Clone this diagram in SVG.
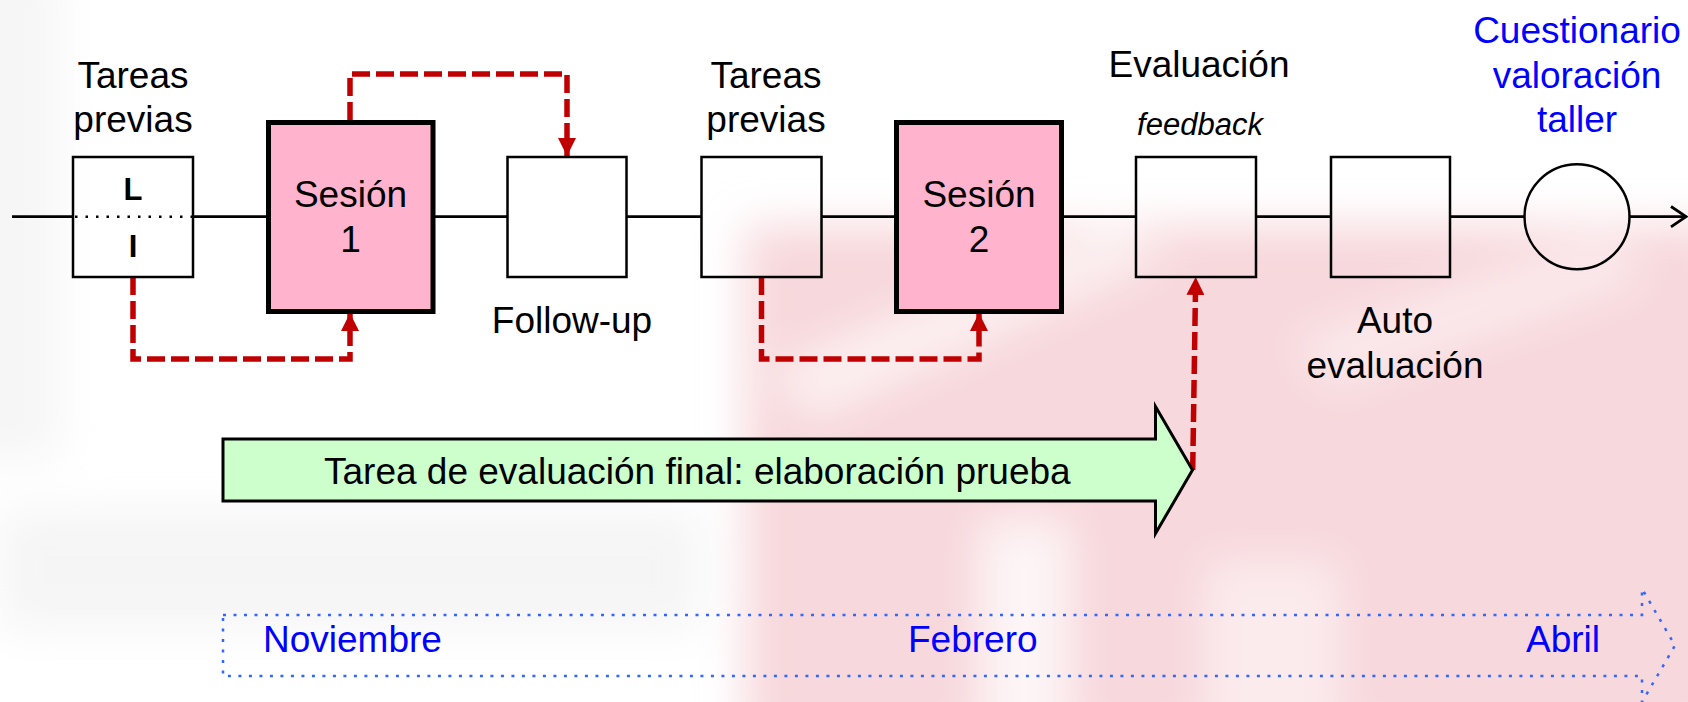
<svg xmlns="http://www.w3.org/2000/svg" width="1688" height="702" viewBox="0 0 1688 702">
  <defs>
    <filter id="soft" x="-10%" y="-10%" width="120%" height="120%">
      <feGaussianBlur stdDeviation="22"/>
    </filter>
    <marker id="redHead" markerUnits="userSpaceOnUse" markerWidth="18" markerHeight="18" viewBox="0 0 17 17" refX="17" refY="8.5" orient="auto">
      <path d="M0,0 L17,8.5 L0,17 Z" fill="#C00000"/>
    </marker>
  </defs>
  <style>
    .lbl { font-family: "Liberation Sans", Arial, sans-serif; font-size: 37px; fill: #000; text-anchor: middle; }
    .blue { fill: #0000FF; }
    .ital { font-style: italic; font-size: 31px; }
    .bold { font-weight: bold; font-size: 31px; }
    .box { fill: none; stroke: #000; stroke-width: 2.5; }
    .session { fill: #FFB3CC; stroke: #000; stroke-width: 5; }
    .flow { fill: none; stroke: #000; stroke-width: 2.8; }
    .link { fill: none; stroke: #C00000; stroke-width: 5.5; stroke-dasharray: 18 6; marker-end: url(#redHead); }
  </style>

  <!-- faint backdrop -->
  <rect x="0" y="0" width="1688" height="702" fill="#FFFFFF"/>
  <g id="backdrop" filter="url(#soft)">
    <rect x="-40" y="-40" width="100" height="500" fill="#F6F6F6"/>
    <rect x="0" y="510" width="700" height="120" fill="#F5F5F5"/>
    <rect x="745" y="225" width="980" height="520" fill="#F7D8DC"/>
    <path d="M770,370 L1110,225 L1170,255 L810,420 Z" fill="#FCF0F1"/>
    <rect x="980" y="520" width="90" height="220" fill="#FDF5F6"/>
    <rect x="1205" y="560" width="135" height="180" fill="#FBEBED"/>
    <path d="M1290,340 L1610,235 L1650,280 L1330,390 Z" fill="#FBE9EB"/>
  </g>

  <!-- main flow line -->
  <g id="connectors">
    <path class="flow" d="M12,216.7 H73 M193,216.7 H267 M434,216.7 H507 M627,216.7 H701 M822,216.7 H895 M1063,216.7 H1136 M1256,216.7 H1331 M1450,216.7 H1524.5 M1629.5,216.7 H1686"/>
    <path class="flow" d="M1671,206.5 L1686,216.7 L1671,226.9"/>
    <path class="link" d="M350,120 V74 H567 V156"/>
    <path class="link" d="M133,277 V359 H350 V313"/>
    <path class="link" d="M761.5,277 V359 H979 V313"/>
    <path class="link" d="M1192.7,470 L1195.7,277"/>
  </g>

  <g id="tareas1">
    <text class="lbl" x="133" y="88">Tareas</text>
    <text class="lbl" x="133" y="132">previas</text>
    <rect class="box" x="73" y="157" width="120" height="120"/>
    <path d="M75,216.7 H192" stroke="#000" stroke-width="2.5" stroke-dasharray="2.5 8"/>
    <text class="lbl bold" x="133" y="200">L</text>
    <text class="lbl bold" x="133" y="257">I</text>
  </g>

  <g id="sesion1">
    <rect class="session" x="268.5" y="122.5" width="164.5" height="189"/>
    <text class="lbl" x="350.5" y="207">Sesión</text>
    <text class="lbl" x="350.5" y="252">1</text>
  </g>

  <g id="followup">
    <rect class="box" x="507.5" y="157" width="119" height="120"/>
    <text class="lbl" x="572" y="333">Follow-up</text>
  </g>

  <g id="tareas2">
    <text class="lbl" x="766" y="88">Tareas</text>
    <text class="lbl" x="766" y="132">previas</text>
    <rect class="box" x="701.5" y="157" width="120" height="120"/>
  </g>

  <g id="sesion2">
    <rect class="session" x="896.5" y="122.5" width="165" height="189"/>
    <text class="lbl" x="979" y="207">Sesión</text>
    <text class="lbl" x="979" y="252">2</text>
  </g>

  <g id="evaluacion">
    <text class="lbl" x="1199" y="77">Evaluación</text>
    <text class="lbl ital" x="1200" y="135">feedback</text>
    <rect class="box" x="1136" y="157" width="120" height="120"/>
  </g>

  <g id="autoevaluacion">
    <rect class="box" x="1331" y="157" width="119" height="120"/>
    <text class="lbl" x="1395" y="333">Auto</text>
    <text class="lbl" x="1395" y="378">evaluación</text>
  </g>

  <g id="cuestionario">
    <text class="lbl blue" x="1577" y="43">Cuestionario</text>
    <text class="lbl blue" x="1577" y="88">valoración</text>
    <text class="lbl blue" x="1577" y="132">taller</text>
    <circle cx="1577" cy="216.7" r="52.5" fill="none" stroke="#000" stroke-width="2.5"/>
  </g>

  <g id="tarea-final">
    <path d="M223,439 H1155.5 V406.5 L1192.5,470 L1155.5,533.5 V501 H223 Z" fill="#CCFFCC" stroke="#000" stroke-width="3"/>
    <text class="lbl" x="324" y="484" style="text-anchor:start">Tarea de evaluación final: elaboración prueba</text>
  </g>

  <g id="calendario">
    <path d="M223,615 H1642 V588.7 L1675,645.5 L1642,702 V676 H223 Z" fill="none" stroke="#3366FF" stroke-width="2.5" stroke-dasharray="3 7.5"/>
    <text class="lbl blue" x="263" y="652" style="text-anchor:start">Noviembre</text>
    <text class="lbl blue" x="908" y="652" style="text-anchor:start">Febrero</text>
    <text class="lbl blue" x="1526" y="652" style="text-anchor:start">Abril</text>
  </g>
</svg>
